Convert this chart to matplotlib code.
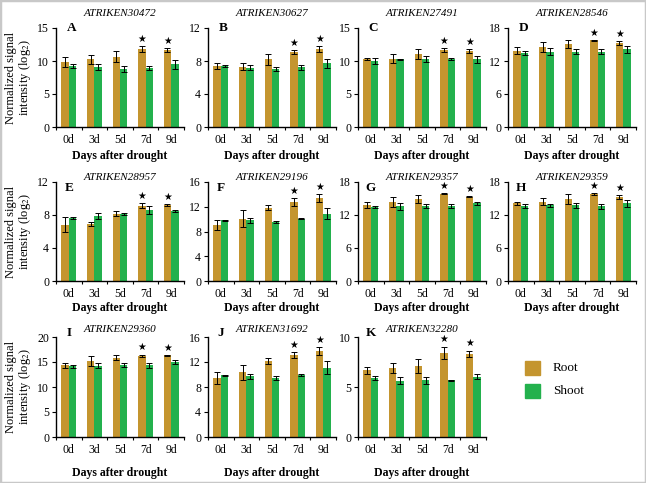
import numpy as np
import matplotlib
matplotlib.use("Agg")
from matplotlib import pyplot as plt
from matplotlib.patches import Rectangle

plt.rcParams['font.family'] = ['Liberation Serif', 'DejaVu Serif']
plt.rcParams['mathtext.fontset'] = 'stix'

days = ['0d', '3d', '5d', '7d', '9d']
genes = ['ATRIKEN30472', 'ATRIKEN30627', 'ATRIKEN27491', 'ATRIKEN28546',
         'ATRIKEN28957', 'ATRIKEN29196', 'ATRIKEN29357', 'ATRIKEN29359',
         'ATRIKEN29360', 'ATRIKEN31692', 'ATRIKEN32280']
letters = ['A', 'B', 'C', 'D', 'E', 'F', 'G', 'H', 'I', 'J', 'K']
ymax = [15, 12, 15, 18, 12, 16, 18, 18, 20, 16, 10]
ystep = [5, 4, 5, 6, 4, 4, 6, 6, 5, 4, 5]

root = [[9.8, 10.25, 10.65, 11.8, 11.6],
        [7.4, 7.3, 8.2, 9.1, 9.45],
        [10.25, 10.35, 11.05, 11.65, 11.45],
        [13.9, 14.6, 15.15, 15.75, 15.3],
        [6.8, 6.9, 8.15, 9.1, 9.25],
        [9.1, 10.1, 11.85, 12.8, 13.4],
        [13.8, 14.4, 14.95, 15.9, 15.35],
        [14.1, 14.45, 14.9, 15.8, 15.25],
        [14.35, 15.15, 15.9, 16.3, 16.35],
        [9.45, 10.4, 12.2, 13.15, 13.75],
        [6.7, 6.95, 7.1, 8.45, 8.35]]
root_err = [[0.75, 0.7, 0.8, 0.4, 0.3],
            [0.35, 0.4, 0.7, 0.2, 0.35],
            [0.15, 0.7, 0.7, 0.3, 0.3],
            [0.7, 0.9, 0.7, 0.15, 0.3],
            [0.9, 0.25, 0.3, 0.3, 0.1],
            [0.8, 1.3, 0.45, 0.6, 0.6],
            [0.6, 0.9, 0.7, 0.1, 0.1],
            [0.2, 0.6, 0.9, 0.2, 0.35],
            [0.5, 1.0, 0.5, 0.2, 0.1],
            [0.9, 1.2, 0.5, 0.5, 0.7],
            [0.35, 0.5, 0.7, 0.6, 0.3]]
shoot = [[9.3, 9.1, 8.8, 8.9, 9.5],
         [7.4, 7.2, 7.05, 7.25, 7.7],
         [10.0, 10.25, 10.3, 10.35, 10.25],
         [13.45, 13.7, 13.7, 13.7, 14.1],
         [7.6, 7.9, 8.1, 8.6, 8.5],
         [9.8, 9.8, 9.6, 10.1, 10.9],
         [13.45, 13.6, 13.6, 13.6, 14.1],
         [13.6, 13.75, 13.75, 13.55, 14.1],
         [14.15, 14.3, 14.5, 14.4, 15.1],
         [9.85, 9.75, 9.4, 9.9, 11.1],
         [5.9, 5.65, 5.7, 5.7, 6.05]]
shoot_err = [[0.3, 0.4, 0.5, 0.3, 0.7],
             [0.1, 0.3, 0.25, 0.3, 0.5],
             [0.4, 0.1, 0.5, 0.15, 0.5],
             [0.3, 0.6, 0.4, 0.4, 0.6],
             [0.1, 0.35, 0.1, 0.5, 0.15],
             [0.1, 0.4, 0.15, 0.1, 0.9],
             [0.2, 0.6, 0.35, 0.35, 0.35],
             [0.35, 0.25, 0.5, 0.4, 0.6],
             [0.3, 0.5, 0.4, 0.5, 0.4],
             [0.1, 0.4, 0.3, 0.2, 1.0],
             [0.2, 0.35, 0.35, 0.05, 0.25]]
signif = [3, 4]

root_color = '#C4952F'
shoot_color = '#23B14D'

W, H = 646, 483
fig = plt.figure(figsize=(W / 100, H / 100), dpi=100)

# axes boxes in pixels: left, top, bottom
lefts = [56, 208, 358, 508]
rows = [(28, 127), (182, 281), (337, 437)]
aw = 128
title_y = [1.15, 1.05, 1.08]
letter_pos = [(0.12, 1.0), (0.1, 0.94), (0.1, 1.04)]
xlab_y = [-0.23, -0.21, -0.3]

x = np.arange(len(days))
bw = 0.29
for i in range(len(genes)):
    r, c = divmod(i, 4)
    top, bot = rows[r]
    ax = fig.add_axes([lefts[c] / W, 1 - bot / H, aw / W, (bot - top) / H])
    ekw = dict(ecolor='black', elinewidth=0.7, capsize=2, capthick=0.7)
    ax.bar(x - bw / 2, root[i], bw, yerr=root_err[i], color=root_color, error_kw=ekw)
    ax.bar(x + bw / 2, shoot[i], bw, yerr=shoot_err[i], color=shoot_color, error_kw=ekw)
    for j in signif:
        ax.annotate('★', xy=(x[j] - bw / 2, root[i][j] + root_err[i][j]),
                    xytext=(0, 1.5), textcoords='offset points', ha='center',
                    va='bottom', fontsize=7, family=['DejaVu Sans'])
    ax.set_xlim(-0.5, 4.5)
    ax.set_ylim(0, ymax[i])
    ax.set_yticks(np.arange(0, ymax[i] + 0.1, ystep[i]))
    ax.set_xticks(x)
    ax.set_xticklabels(days)
    ax.set_xticks(np.arange(-0.5, 5, 1), minor=True)
    ax.tick_params(axis='x', which='major', length=0, pad=5, labelsize=8.5)
    ax.tick_params(axis='x', which='minor', length=2.5, width=0.8)
    ax.tick_params(axis='y', length=3, width=0.8, pad=2, labelsize=8.5)
    for s in ['top', 'right']:
        ax.spines[s].set_visible(False)
    for s in ['left', 'bottom']:
        ax.spines[s].set_linewidth(1.0)
    ax.text(0.5, title_y[r], genes[i], transform=ax.transAxes, ha='center',
            va='center', fontsize=8, style='italic')
    ax.text(letter_pos[r][0], letter_pos[r][1], letters[i], transform=ax.transAxes,
            ha='center', va='center', fontsize=9.5, fontweight='bold')
    ax.set_xlabel('Days after drought', fontsize=8.5, fontweight='bold')
    ax.xaxis.set_label_coords(0.5, xlab_y[r])
    if c == 0:
        ax.set_ylabel('Normalized signal\nintensity (log$_2$)', fontsize=9,
                      linespacing=1.0)
        ax.yaxis.set_label_coords(-0.18, 0.5)

# legend
for k, (lab, col) in enumerate([('Root', root_color), ('Shoot', shoot_color)]):
    y0 = 361 + k * 23
    fig.patches.append(Rectangle((525 / W, 1 - (y0 + 14) / H), 15 / W, 14 / H,
                                 transform=fig.transFigure, color=col))
    fig.text(553 / W, 1 - (y0 + 7) / H, lab, fontsize=9.5, va='center', ha='left')

# gray frame round the figure
fig.patches.append(Rectangle((0, 0), 1, 1, transform=fig.transFigure, fill=False,
                             edgecolor='#c8c8c8', linewidth=2.5))

fig.savefig('out.png', dpi=100)
